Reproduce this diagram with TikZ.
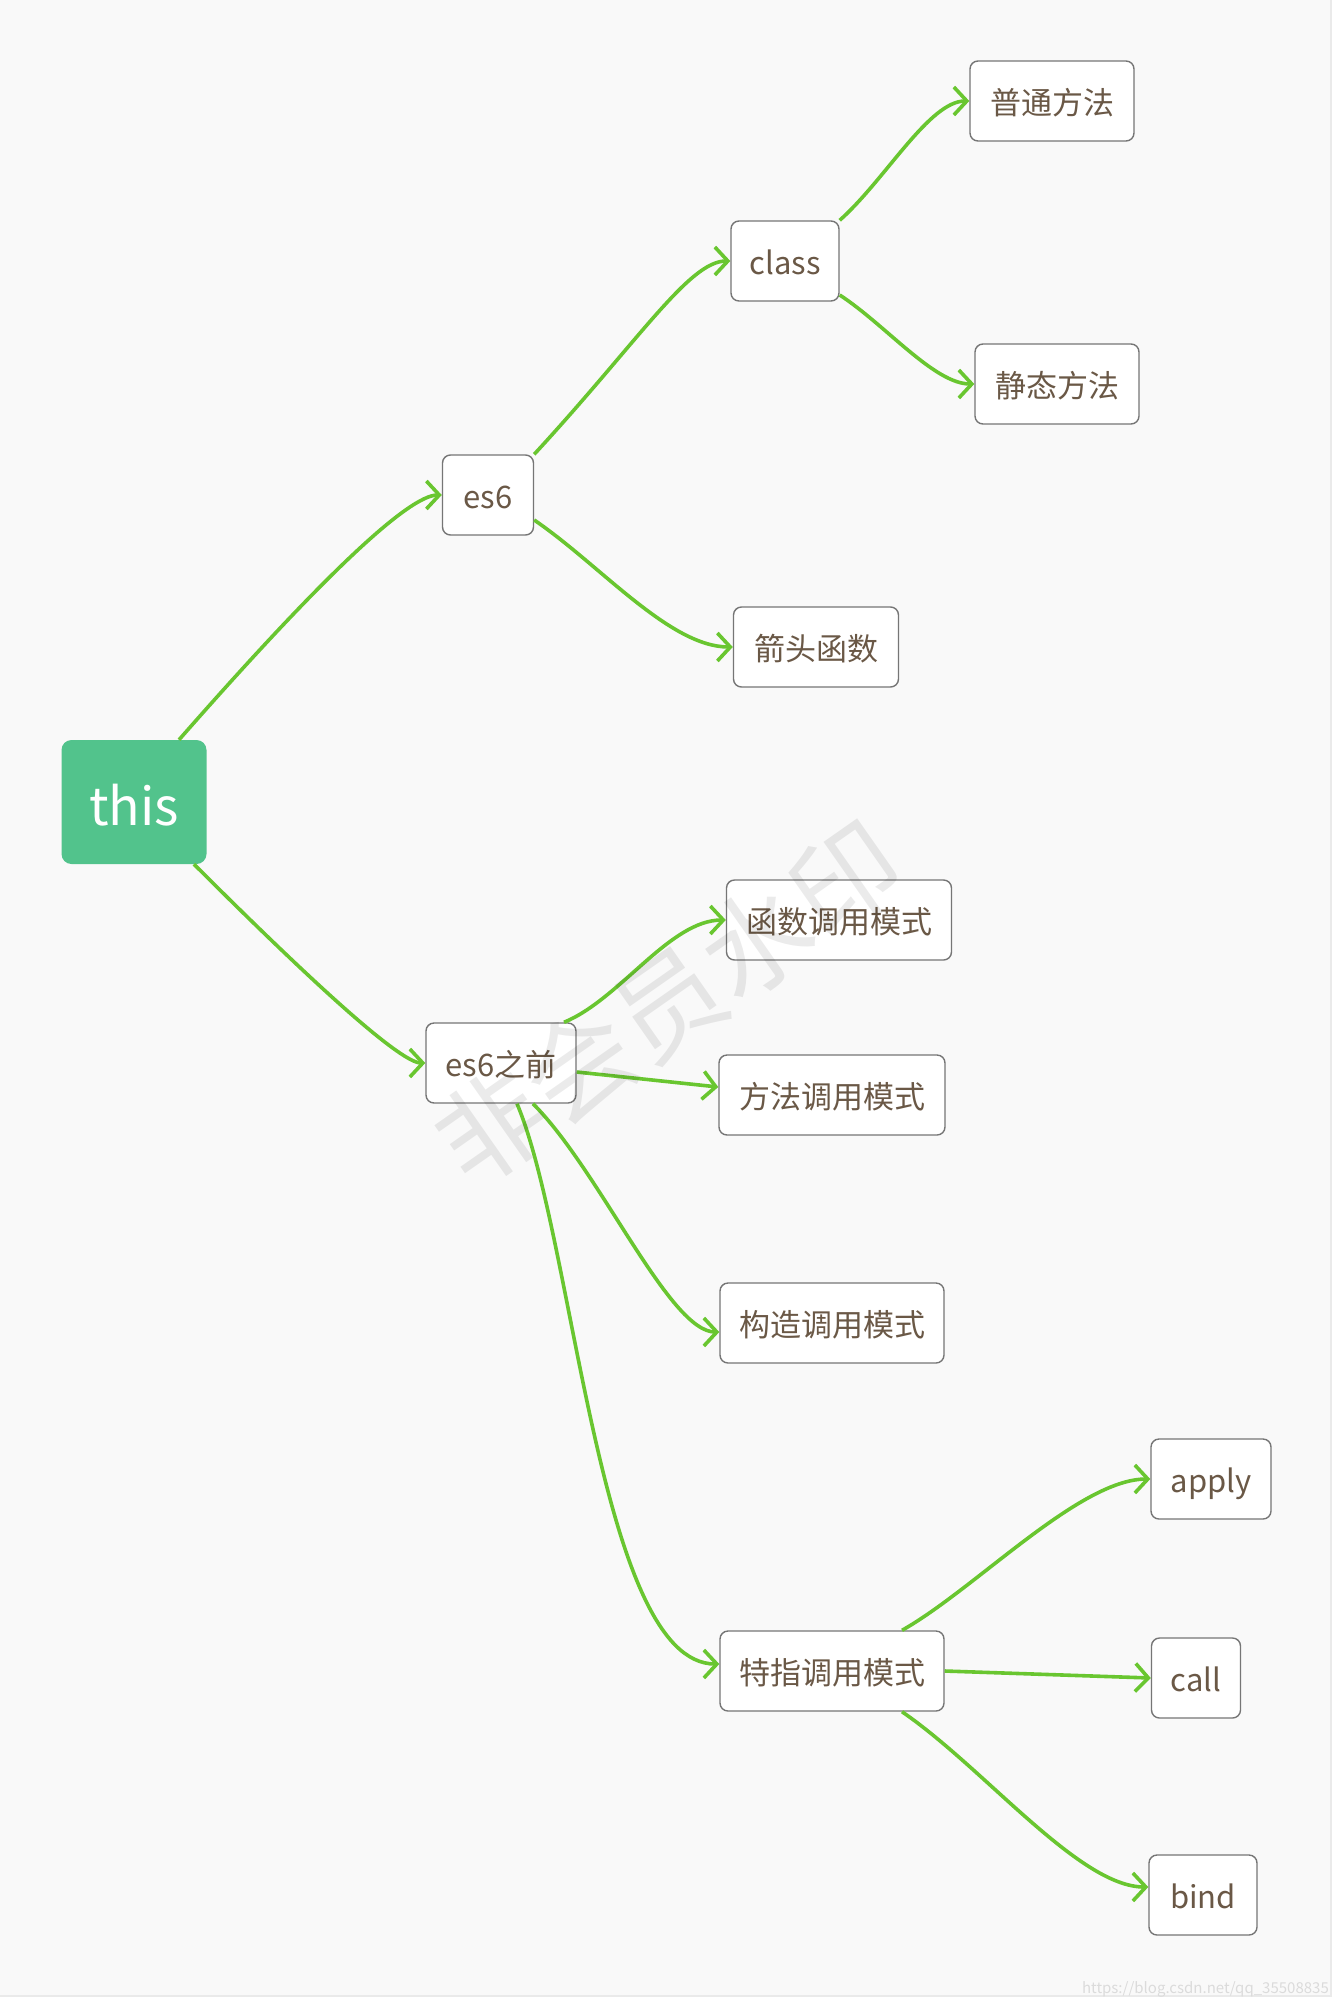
\documentclass[tikz,border=0pt]{standalone}
\usepackage{fontspec}
\setmainfont{Noto Sans CJK SC}
\usepackage{xcolor}
\usetikzlibrary{arrows.meta}
\definecolor{linkgreen}{RGB}{105,198,48}
\definecolor{rootgreen}{RGB}{82,195,140}
\definecolor{textbrown}{RGB}{106,88,70}
\definecolor{boxgray}{RGB}{118,118,118}
\definecolor{paper}{RGB}{249,249,249}
\definecolor{rimgray}{RGB}{234,234,234}

\begin{document}
\begin{tikzpicture}[
    x=1pt, y=-1pt,
    topic/.style={draw=boxgray, line width=1.4pt, fill=white,
      rounded corners=8pt, minimum height=80pt, inner xsep=0pt,
      text=textbrown, font=\fontsize{31}{36}\selectfont,
      text height=27pt, text depth=0pt},
    root/.style={fill=rootgreen, rounded corners=10pt,
      minimum width=145pt, minimum height=124pt, text=white,
      font=\fontsize{52}{60}\selectfont, text height=47pt, text depth=0pt},
    link/.style={draw=linkgreen, line width=3.6pt,
      -{Straight Barb[length=13pt, width=28pt]}}]

    \useasboundingbox (0, 0) rectangle (1340, 2008);
    \fill [white] (0, 0) rectangle (1340, 2008);
    \fill [paper] (0, 0) rectangle (1331, 1995);
    \draw [rimgray, line width=2pt] (1331, 0) -- (1331, 1996) -- (0, 1996);

    \node [root] (this) at (134, 802) {this};

    \node [topic, minimum width=91pt] (es6) at (488, 495) {es6};
    \node [topic, minimum width=108pt] (class) at (785, 261) {class};
    \node [topic, minimum width=164pt] (normal) at (1052, 101) {普通方法};
    \node [topic, minimum width=164pt] (static) at (1057, 384) {静态方法};
    \node [topic, minimum width=165pt] (arrowfn) at (816, 647) {箭头函数};

    \node [topic, minimum width=150pt] (pre) at (501, 1063) {es6之前};
    \node [topic, minimum width=225pt] (funcall) at (839, 920) {函数调用模式};
    \node [topic, minimum width=226pt] (methcall) at (832, 1095) {方法调用模式};
    \node [topic, minimum width=224pt] (ctorcall) at (832, 1323) {构造调用模式};
    \node [topic, minimum width=224pt] (bindcall) at (832, 1671) {特指调用模式};

    \node [topic, minimum width=120pt] (apply) at (1211, 1479) {apply};
    \node [topic, minimum width=89pt] (call) at (1196, 1678) {call};
    \node [topic, minimum width=108pt] (bind) at (1203, 1895) {bind};

    \draw [link] ([shift={(45,0)}]this.north)
    .. controls +(143,-163) and +(-33,0) .. (es6.west);
    \draw [link] ([shift={(60,0)}]this.south)
    .. controls +(132,132) and +(-23,0) .. (pre.west);

    \draw [link] (es6.north east)
    .. controls +(106,-115) and +(-41,0) .. (class.west);
    \draw [link] ([shift={(0,25)}]es6.east)
    .. controls +(66,45) and +(-63,0) .. (arrowfn.west);
    \draw [link] (class.north east)
    .. controls +(46,-41) and +(-40,0) .. (normal.west);
    \draw [link] ([shift={(0,34)}]class.east)
    .. controls +(46,30) and +(-40,0) .. (static.west);

    \draw [link] ([shift={(63,0)}]pre.north)
    .. controls +(56,-23) and +(-56,0) .. (funcall.west);
    \draw [link] ([shift={(0,9)}]pre.east) -- ([shift={(0,-8)}]methcall.west);
    \draw [link] ([shift={(32,0)}]pre.south)
    .. controls +(67,67) and +(-50,0) .. ([shift={(0,9)}]ctorcall.west);
    \draw [link] ([shift={(16,0)}]pre.south)
    .. controls +(58,137) and +(-120,0) .. ([shift={(0,-7)}]bindcall.west);

    \draw [link] ([shift={(70,0)}]bindcall.north)
    .. controls +(73,-41) and +(-71,0) .. (apply.west);
    \draw [link] (bindcall.east) -- (call.west);
    \draw [link] ([shift={(70,0)}]bindcall.south)
    .. controls +(83,57) and +(-69,0) .. ([shift={(0,-8)}]bind.west);

    \node [rotate=35, text=black, text opacity=0.08,
    font=\fontsize{108}{112}\selectfont] (mark) at (668, 1003) {非会员水印};
    \node [anchor=base east, inner sep=0pt, text=black!14,
    font=\fontsize{15}{18}\selectfont] (url) at (1329, 1993)
    {https://blog.csdn.net/qq\_35508835};

  \end{tikzpicture}
\end{document}
